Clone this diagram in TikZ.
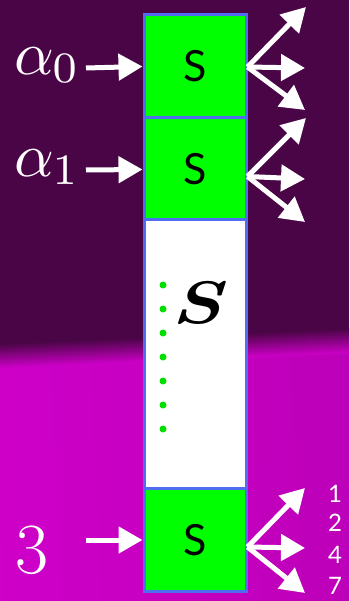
\documentclass[tikz,border=0pt]{standalone}
\usepackage{fontspec}
\newfontfamily\sansf{Lato}
\usetikzlibrary{arrows.meta}
\definecolor{bgtop}{RGB}{74,5,70}
\definecolor{bgbot}{RGB}{208,0,202}
\definecolor{bgbotr}{RGB}{186,0,182}
\definecolor{boxblue}{RGB}{80,108,240}
\definecolor{sgreen}{RGB}{0,255,0}
\definecolor{dotgreen}{RGB}{0,222,0}
\newcommand{\lowsub}[1]{\raisebox{-1.2pt}{$\scriptstyle #1$}}
\begin{document}
\begin{tikzpicture}[x=1pt,y=-1pt,
  cell/.style={draw=boxblue,line width=3pt,fill=sgreen,minimum width=102pt,minimum height=103pt,inner sep=0pt,font=\sansf\fontsize{43}{43}\selectfont},
  arr/.style={draw=white,line width=5pt,-{Triangle[length=24pt,width=26pt]}},
  lab/.style={text=white,inner sep=0pt},
  num/.style={text=white,font=\sansf\fontsize{24}{24}\selectfont,inner sep=0pt}]
\useasboundingbox (0,0) rectangle (349,601);
\clip (0,0) rectangle (349,601);
% background
\fill[bgtop] (0,0) rectangle (349,601);
\begin{scope}[transform canvas={rotate around={2.5:(174,348)}}]
  \shade[left color=bgbot,right color=bgbotr] (-40,360) rectangle (400,660);
  \shade[top color=bgtop,bottom color=bgbot] (-40,336) rectangle (400,361);
\end{scope}
% column
\node[cell] (b0) at (195,66.5) {S};
\node[cell] (b1) at (195,169.5) {S};
\node[cell,fill=white,minimum height=269pt] (bw) at (195,354.5) {};
\node[cell] (b3) at (195,540) {\raisebox{-5pt}{S}};
\foreach \k in {0,...,6} \fill[dotgreen] (163,285+24*\k) circle (3.5pt);
\node[inner sep=0pt,xscale=1.3,font=\fontsize{60}{60}\selectfont\bfseries\itshape] (sc) at (197,303) {S};
% labels
\node[lab,anchor=base west,scale=6.2] (a0) at (13,75) {$\alpha$\kern-0.3pt\lowsub{0}};
\node[lab,anchor=base west,scale=6.2] (a1) at (13,177) {$\alpha$\kern-0.3pt\lowsub{1}};
\node[lab,anchor=base west,font=\fontsize{72}{72}\selectfont] (a3) at (15,573) {3};
% input arrows
\coordinate (i0) at (86,68);
\coordinate (i1) at (86,170);
\coordinate (i3) at (86,540);
\draw[arr] (i0) -- (b0.west);
\draw[arr] (i1) -- (b1.west);
\draw[arr] (i3) -- (b3.west);
% output arrows
\coordinate (o0) at ([yshift=-0.5pt]b0.east);
\coordinate (o1) at ([yshift=-7pt]b1.east);
\coordinate (o3) at ([yshift=-7pt]b3.east);
\coordinate (t0u) at (306,7);
\coordinate (t0m) at (305,68);
\coordinate (t0d) at (305,110);
\coordinate (t1u) at (306,118);
\coordinate (t1m) at (305,179);
\coordinate (t1d) at (305,222);
\coordinate (t3u) at (305,488);
\coordinate (t3m) at (305,548);
\coordinate (t3d) at (305,593);
\foreach \o/\t in {o0/t0u,o0/t0m,o0/t0d,o1/t1u,o1/t1m,o1/t1d,o3/t3u,o3/t3m,o3/t3d}
  \draw[arr] (\o) -- (\t);
% numbers
\node[num] (n1) at (335,494) {1};
\node[num] (n2) at (335,523) {2};
\node[num] (n4) at (335,555) {4};
\node[num] (n7) at (335,586) {7};
\end{tikzpicture}
\end{document}
